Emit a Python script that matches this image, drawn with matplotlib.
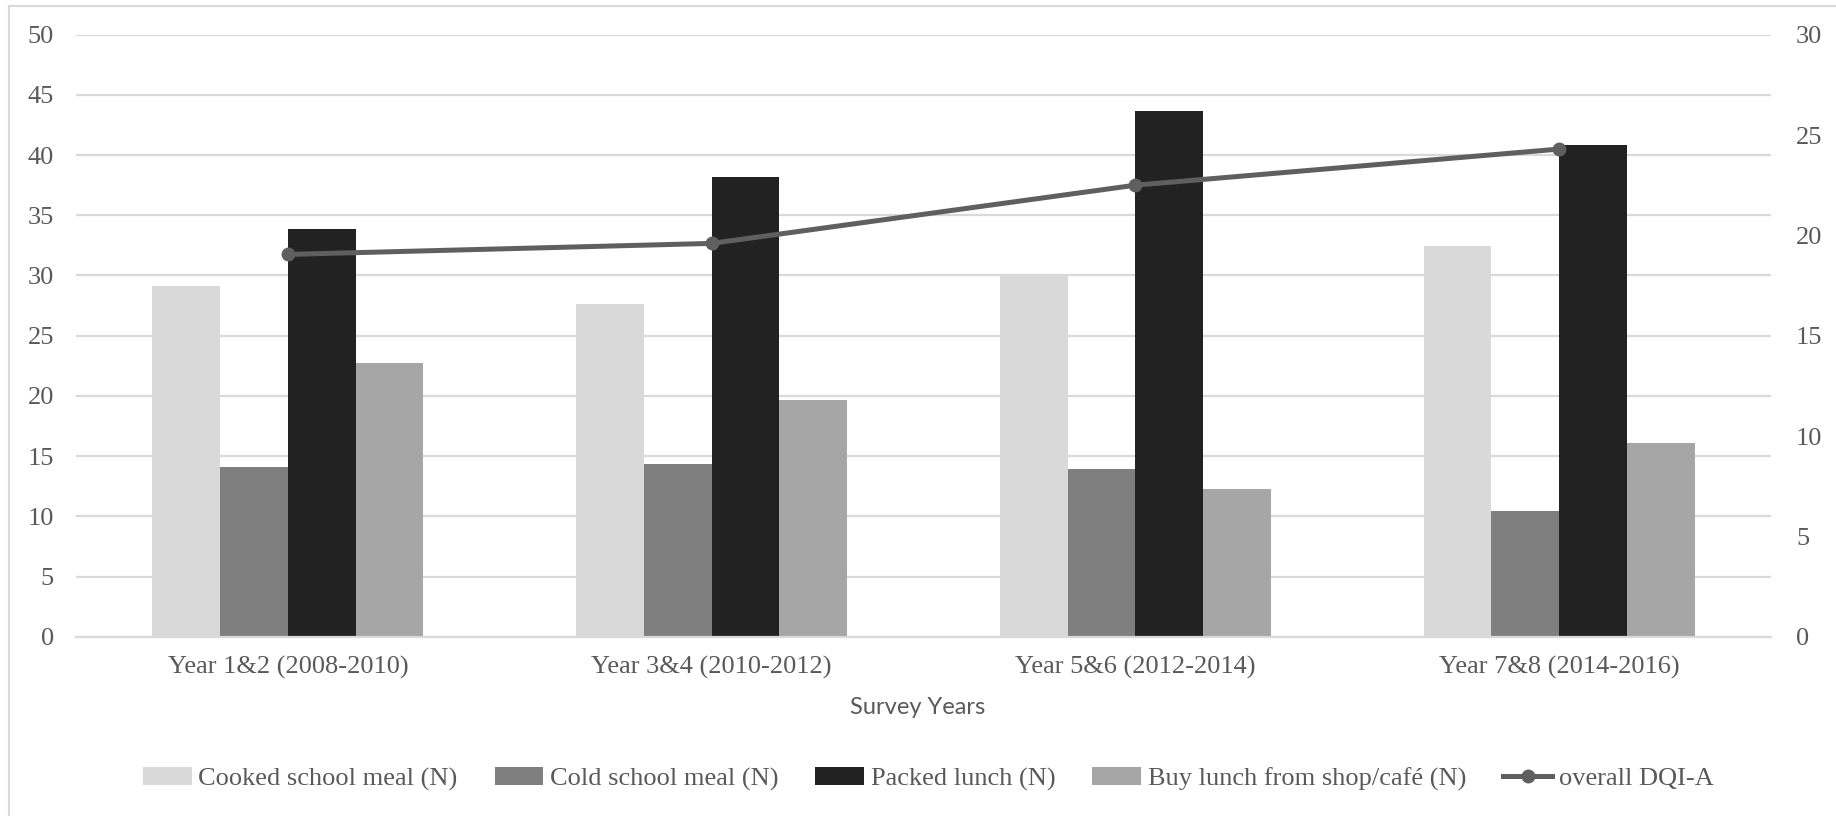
import matplotlib
matplotlib.use("Agg")
import matplotlib.pyplot as plt
import numpy as np
from matplotlib.lines import Line2D

categories = ["Year 1&2 (2008-2010)", "Year 3&4 (2010-2012)",
              "Year 5&6 (2012-2014)", "Year 7&8 (2014-2016)"]
cooked = [29.15, 27.6, 30.0, 32.45]
cold = [14.1, 14.35, 13.95, 10.45]
packed = [33.9, 38.2, 43.7, 40.85]
buy = [22.7, 19.7, 12.3, 16.1]
dqi = [19.05, 19.6, 22.5, 24.3]

series_names = ["Cooked school meal (N)", "Cold school meal (N)",
                "Packed lunch (N)", "Buy lunch from shop/café (N)"]
line_name = "overall DQI-A"
colors = ["#d9d9d9", "#7f7f7f", "#222222", "#a6a6a6"]
line_color = "#5f5f5f"
text_color = "#595959"
serif = "Liberation Serif"

fig = plt.figure(figsize=(18.36, 8.16), dpi=100)
ax = fig.add_axes([0.0414, 0.2197, 0.9232, 0.7378])
x = np.arange(len(categories))
w = 0.16
for i, (vals, c, name) in enumerate(zip([cooked, cold, packed, buy], colors, series_names)):
    ax.bar(x + (i - 1.5) * w, vals, width=w, color=c, label=name, zorder=2)

ax.set_xlim(-0.5, 3.5)
ax.set_ylim(0, 50)
ax.set_yticks(np.arange(0, 51, 5))
ax.yaxis.grid(True, color="#d9d9d9", lw=1.6, zorder=0)
ax.set_axisbelow(True)
for s in ["top", "right", "left"]:
    ax.spines[s].set_visible(False)
ax.spines["bottom"].set_color("#d9d9d9")
ax.spines["bottom"].set_linewidth(1.6)
ax.set_xticks(x)
ax.set_xticklabels(categories, fontfamily=serif, fontsize=19, color=text_color)
ax.tick_params(axis="x", length=0, pad=14)
ax.tick_params(axis="y", length=0, pad=16, labelcolor=text_color, labelsize=19)
for t in ax.get_yticklabels():
    t.set_fontfamily(serif)

ax2 = ax.twinx()
ax2.set_ylim(0, 30)
ax2.set_yticks(np.arange(0, 31, 5))
for s in ["top", "right", "left", "bottom"]:
    ax2.spines[s].set_visible(False)
ax2.tick_params(axis="y", length=0, pad=18, labelcolor=text_color, labelsize=19)
for t in ax2.get_yticklabels():
    t.set_fontfamily(serif)
ax2.plot(x, dqi, color=line_color, lw=3.6, marker="o", markersize=9,
         label=line_name, zorder=5)

fig.text(0.5, 1 - 707 / 816, "Survey Years", ha="center", va="center",
         fontfamily="Lato", fontsize=17, color=text_color)

h1, l1 = ax.get_legend_handles_labels()
h2, l2 = ax2.get_legend_handles_labels()
leg = fig.legend(h1 + h2, l1 + l2, loc="center", bbox_to_anchor=(0.5055, 1 - 779 / 816),
                 ncol=5, frameon=False, prop={"family": serif, "size": 19},
                 handlelength=1.85, handleheight=0.62, handletextpad=0.25,
                 columnspacing=1.4, borderaxespad=0)
for t in leg.get_texts():
    t.set_color(text_color)

fig.add_artist(Line2D([9 / 1836, 1], [1 - 5.5 / 816, 1 - 5.5 / 816],
                      transform=fig.transFigure, color="#d9d9d9", lw=1.5))
fig.add_artist(Line2D([9 / 1836, 9 / 1836], [0, 1 - 5.5 / 816],
                      transform=fig.transFigure, color="#d9d9d9", lw=1.5))

fig.savefig("out.png", dpi=100, facecolor="white")
